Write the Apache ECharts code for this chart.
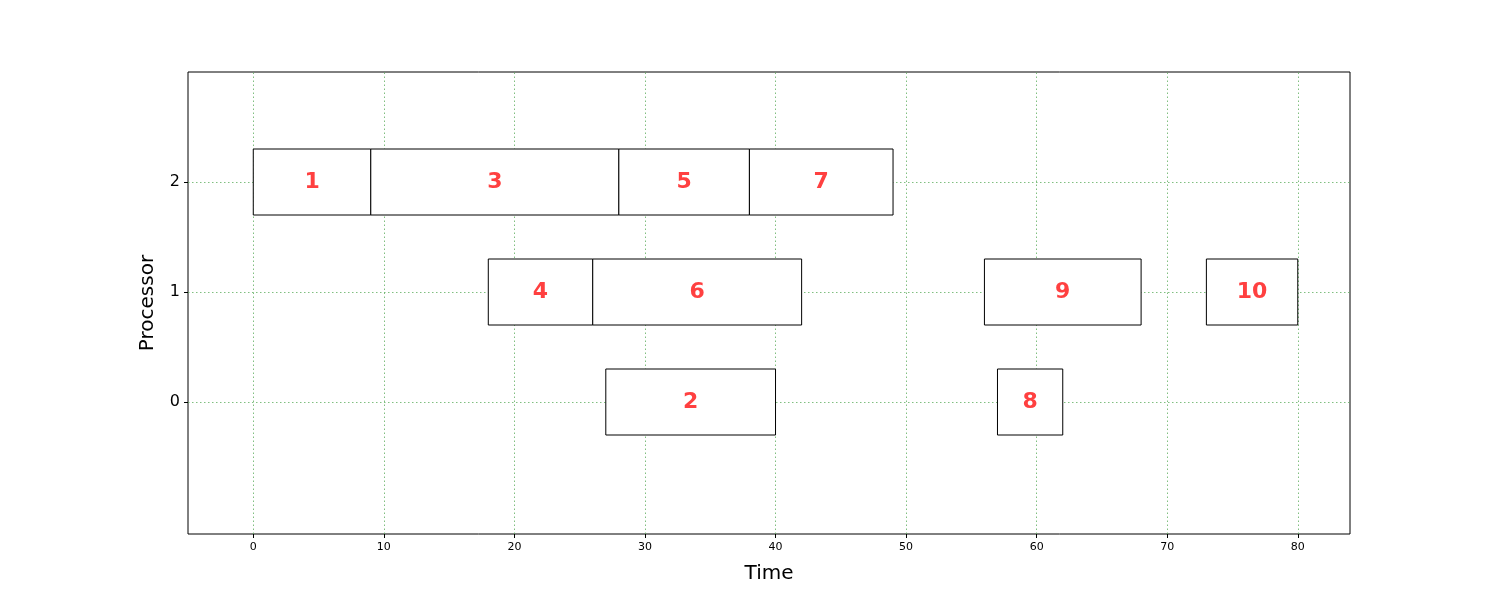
<!DOCTYPE html>
<html><head><meta charset="utf-8">
<script src="https://cdn.jsdelivr.net/npm/echarts@6/dist/echarts.min.js"></script>
<style>html,body{margin:0;background:#fff}#c{width:1500px;height:600px}</style>
</head><body><div id="c"></div>
<script>
const taskIds = [1,3,5,7,4,6,9,10,2,8];
const processors = [2,2,2,2,1,1,1,1,0,0];
const starts = [0,9,28,38,18,26,56,73,27,57];
const ends = [9,28,38,49,26,42,68,80,40,62];
const xTicks = [0,10,20,30,40,50,60,70,80];
const yTicks = [0,1,2];

const data = taskIds.map((t,i)=>[starts[i], ends[i], processors[i], t]);
const chart = echarts.init(document.getElementById('c'));
const gl = {color:'#5fae5f', type:[1.5,2.5], width:0.8};
chart.setOption({
  animation:false,
  grid:{left:188,right:150,top:72,bottom:66,show:true,borderColor:'#000',borderWidth:1},
  xAxis:{type:'value',min:-5,max:84,name:'Time',nameLocation:'middle',nameGap:30,
    nameTextStyle:{fontSize:20,color:'#000',fontFamily:'DejaVu Sans'},
    axisLine:{show:false,onZero:false},splitLine:{show:false},
    axisTick:{customValues:xTicks,length:4,inside:false,lineStyle:{color:'#000'}},
    axisLabel:{customValues:xTicks,color:'#000',fontSize:11,fontFamily:'DejaVu Sans'}},
  yAxis:{type:'value',min:-1.2,max:3,name:'Processor',nameLocation:'middle',nameGap:30,
    nameTextStyle:{fontSize:20,color:'#000',fontFamily:'DejaVu Sans'},
    axisLine:{show:false,onZero:false},splitLine:{show:false},
    axisTick:{show:true,customValues:yTicks,length:4,inside:false,lineStyle:{color:'#000'}},
    axisLabel:{customValues:yTicks,color:'#000',fontSize:16,fontFamily:'DejaVu Sans'}},
  series:[{
    type:'custom',
    data:data,
    encode:{x:[0,1],y:2},
    renderItem:function(params,api){
      const p0 = api.coord([api.value(0), api.value(2)+0.3]);
      const p1 = api.coord([api.value(1), api.value(2)-0.3]);
      return {type:'group',children:[
        {type:'rect',shape:{x:p0[0],y:p0[1],width:p1[0]-p0[0],height:p1[1]-p0[1]},
         style:{fill:'#fff',stroke:'#000',lineWidth:1}},
        {type:'text',style:{text:String(api.value(3)),x:(p0[0]+p1[0])/2,y:(p0[1]+p1[1])/2,
          align:'center',verticalAlign:'middle',fill:'#ff4040',font:'bold 22px DejaVu Sans'}}
      ]};
    },
    z:3
  },{
    type:'line',data:[],
    markLine:{silent:true,symbol:'none',label:{show:false},lineStyle:gl,z:1,
      data:xTicks.map(v=>({xAxis:v})).concat(yTicks.map(v=>({yAxis:v})))}
  }]
});
</script></body></html>
